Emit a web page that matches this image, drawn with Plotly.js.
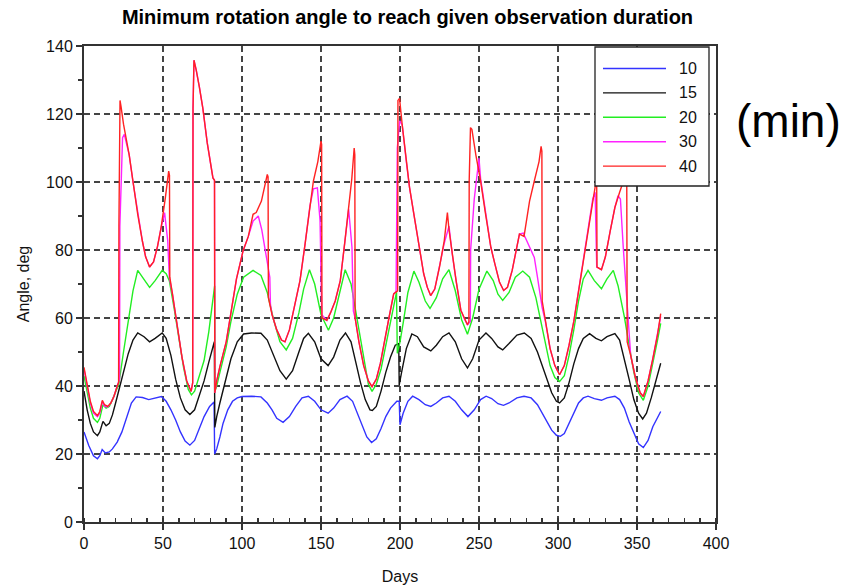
<!DOCTYPE html>
<html>
<head>
<meta charset="utf-8">
<script src="https://cdn.plot.ly/plotly-3.0.1.min.js"></script>
<style>html,body{margin:0;padding:0;background:#fff;}#chart{width:853px;height:585px;}</style>
</head>
<body>
<div id="chart"></div>
<script>
// Series names (observation duration, min) and colours
var seriesNames = ['10', '15', '20', '30', '40'];
var seriesColors = ['#3333ff', '#111111', '#22ee22', '#ff22ff', '#ff2222'];

// 10 min (blue)
var dayBlue = [0,3,6,8.5,10,11.5,13.5,16,18,21,24,27,30,33,37,41,45,49,52,55,58,61,64,67,70,73,76,79.5,82.3,82.7,84,86,88,91,94,97,100,106,112,116,119,122,126,130,134,138,142,146,150,154.5,158,162,166.5,170,173,176,179,182,185,188,191,194,198,199.5,200,202,205,208,212,216,219.5,223,227,231,235,239,243,247,251,254.5,258,262,265.5,269,274,278.5,283,287,290,293,296,299,301.5,304,307,310,313,316,319,323,327.5,331,336,339,342,345,348,351,354,357,360,363,365];
var angBlue = [26.5,22.5,19.5,18.6,19.5,21.3,20.3,20.6,21.5,23.5,26.5,31,35,36.8,36.6,36,36.4,36.9,35.5,33,30,26.5,23.8,22.6,24,27.5,31,34,35.3,20,21.5,25,29,33,35.5,36.5,36.9,37,36.8,35,33,30.5,29.3,31,34,36.5,37,35.5,33,32,33.5,36,37,35.5,32,28,25,23.4,24.5,27.5,31,33.5,35.5,35.5,28.6,32,35.5,37,36,34.5,34,35,36.5,37,35.5,33,31,33,36,37,36.3,34.8,34.3,35,36.5,37,36.5,34.5,32,29.5,27,25.5,25.2,26,29,32.5,35,36.5,37,36.3,35.8,36.5,37,36,33.5,29.5,26,23,21.9,24,28,31,32.5];

// 15 min (black)
var dayBlack = [0,2,4,6,8.5,10,12,14,16,18,20,22,25,28,31,34,38,41.5,45,49.5,52,55,58,61,64,67,70,73,76,79,82.5,82.8,84,86,90,93,97,101,106,112,116,120,124,128,132,136,139,142,146,150,154.5,158,162,165.5,169,172,175,178,181,182.5,185,188,191,194,197,199.2,199.5,201,204,207.5,211,215,219.5,223,227,231,235,239,242.7,246,250,254.4,258,262,265,269,274,278.7,283,287,290,293,296,299,301,304,307,310,313,316,320,324,327.5,331,336,339,342,345,348,351,353.6,356,359,362,365];
var angBlack = [38.5,33,29,26.5,25.4,26.5,29.6,28.3,29,31.5,35,38.5,44,49.5,53.5,55.6,54.5,53,54,55.6,54,49,42,36.5,33,31.6,33,37,41.5,47,53,27.8,31,35,42,48,53,55.3,55.6,55.5,53.5,49,44.5,42,44.5,50,54,55.5,53,48,46,48.5,53.5,55.6,53,47,41,36,33,32.8,34,38.5,44,48.5,52,52.5,40.3,44,51,55.3,54.5,51.5,50.3,52,54.5,55.6,53,48,45.3,48,53.5,55.6,54,51.5,50.6,52.5,55,55.6,54,50,46,41.5,38,35.5,35,36.5,41,46.5,51,54,55.4,54,53.3,54.5,55.4,53.5,48,42,36,32,30.3,32,36.5,41.5,46.7];

// 20 min (green)
var dayGreen = [0,2,4,6,8.5,10,12,14,16,18,20,22,25,28,31,34,38,41.5,45,49.5,52,54,57,60,63,66,68,70,73,76,79,82,82.7,82.9,84,86,90,93,97,101,107,112,116,120,124,128,132,136,139,142.7,146,150,154.7,158,162,165.3,169,172,175,178,180,182.3,185,188,191,194,197.8,198.3,200,202,205,208.8,212,216,219,223,227,231,235,239,242.7,246,250,255,259,262,265,269,273,277.7,282,286,289,292,295,298,301,304,307,310,313,316,319,323,327.5,331,335,338,342,345,348,351,354,357,360,363,365];
var angGreen = [43,38,33.5,30.5,29.3,30.5,34.5,33.5,34,36,38,40.5,50,58.5,68,74,71.5,69,71,74,73,71,63,54,45.5,39,37.4,38.5,43,47.5,56,68,69.5,38.5,40,44,51.5,59,67,72,74,72.5,67.5,59.5,53,50.6,54,61.5,68.5,74.2,70,61,56.4,60,68,74.2,70,62,53,45,40.5,38.4,40.5,45,52,59.5,67.6,49.6,53,58.5,67.5,73.8,70.5,65,62.8,66,71.5,74.2,68,59.5,55.2,60,68.5,73.8,71,67,65.2,67.5,72,73.8,72,66,59,52,46,42.5,41.3,43,49,56.5,65,71.5,74,71,68.6,71.5,74,69.5,60.3,52,44,38,35.8,40,46.5,53.5,58.4];

// 30 min (magenta)
var dayMagenta = [0,2,4,6,8.5,10,11.6,13,15,17,19,21,22.5,22.7,24.4,25.5,28.6,31,34,37,39,41.5,44,46.5,48.8,51,53,54,56,59,62,65,67.8,68.8,69,69.6,71,73,75.2,78,81.6,82.6,82.8,84,86,90,93,96.5,100.7,104,107,110.3,112.5,114.5,117.6,118,119,122,125,127.2,130,133,136.7,140,143,145.2,147.7,149.4,150.5,153.7,156,159,162.2,165,167.5,169.6,170.5,171.6,174,177,180,182.3,185,187.6,190,193,196,197.5,197.8,198.3,199.8,201.4,204,206,208.8,212,215,217.3,219.4,222,225,228,231,233,235.5,238.5,241,242.7,244.5,244.7,247,250,251,254,257.5,260,263,265.6,268,271,275.6,278,281,285,287,289.3,290,292,295,298,301,304,307,310,313,316,319,322,323.5,324,324.5,327.5,330,333,336,338,339.5,341.3,343,344.4,346,349,352,354,357,360,363,365];
var angMagenta = [45,39.5,35,32,31,32,35.5,34,33.8,35,37,40,42,87,113,114,108,100,90.5,82.5,78,75,76.5,81,86.6,91,82.7,72,67,58,48.5,41.5,38.4,41,121.7,135.8,133,128,121.7,111.5,101.2,100.5,38,41.5,45.7,53,61,71.5,79.8,84,88.5,90,86,80.8,72,64,61,56.5,53.5,53,56.5,63,71,82,93,98,98.3,88.6,61,59.3,61.5,65,71,82,92,80.8,62,60,53,46,41.5,39.8,42,46.7,53,60,67.1,67.8,83,110,118,116.8,106,98.5,90.5,81,73,69,66.6,68.5,75,82,87,79,71,62.3,59.5,58,59,80,95,107,101,91,80.8,76,70.5,68.1,69,74,84.7,85,82,77.8,72,65.2,63,59,51,46,43.3,46,52,59,68,77,86,95,97,80,75,74.2,78,85.5,92.5,96,95,80.8,70,61.3,49,42.5,38,36.9,41.5,48,55,60.5];

// 40 min (red)
var dayRed = [0,2,4,6,8.5,10,11.6,13,15,17,19,21,21.9,22.1,22.8,23.5,25,28.6,31,34,37,39,41.5,44,46.5,48.8,51.5,53.6,54.1,54.3,56,59,62,65,67.8,68.8,69,69.6,71,73,75.2,78,81.6,82.6,82.8,84,86,90,93,96.5,100.7,104,107,109,112.3,116,116.5,116.7,119,122,125,127.2,130,133,136.7,140,143,145.2,148,150,150.4,150.6,153.7,156,159,162.2,165,167.5,169.5,171,171.4,171.6,174,177,180,182.3,185,187.6,190,193,196,198.5,198.7,199.7,201.4,204,206,208.8,212,215,217.3,219.4,222,225,228,230,231,233,235.5,238.5,241,242.7,243.6,243.8,244.6,245.5,248,251,254,257.5,260,263,265.6,268,271,275.6,278.5,280,282,285,288,289.3,289.8,290,292,295,298,301,304,307,310,313,316,319,322,324,324.5,324.7,327.5,330,333,336,339,342,343.5,343.8,346,349,352,354,357,360,363,365];
var angRed = [45.5,40,35.5,32.5,31.3,32.5,35.8,34.5,34,35,37,40,41,87,124,122,117,108,100,90.5,82.5,78,75,76.5,81,86.6,95.4,103.2,102,72,67,58,48.5,41.5,38.4,41,121.7,135.8,133,128,121.7,111.5,101.2,100.5,38,41.5,45.7,53,61,71.5,79.8,84,90.5,91,94.4,102.2,101.5,66,61,56.5,53.5,53,56.5,63,71,82,93,100.3,106,112,111,60,59.3,61.5,65,71,82,93,101,110,108,60,53,46,41.5,39.8,42,46.7,53,60,67.1,68,124,124.6,116.8,106,98.5,90.5,81,73,69,66.6,68.5,75,82.7,91,86,79,71,62.3,59.5,58,59,100.3,116,115.5,108,100.3,91,80.8,76,70.5,68.1,69,74,84.7,84,88,94.4,100.3,106,110.5,109,65,59,51,46,43.3,46,52,59,68,77,86,95,100,99,75,74.2,78,85.5,92.5,97,101,103,53,49,42.5,38,36.9,41.5,48,55,61.3];

var xTickVals = [0,50,100,150,200,250,300,350,400];
var yTickVals = [0,20,40,60,80,100,120,140];

var FONT = '"Liberation Sans", Arial, sans-serif';

var xs = [dayBlue, dayBlack, dayGreen, dayMagenta, dayRed];
var ys = [angBlue, angBlack, angGreen, angMagenta, angRed];
var traces = xs.map(function (x, i) {
  return {
    x: x, y: ys[i], type: 'scatter', mode: 'lines', name: seriesNames[i],
    line: {color: seriesColors[i], width: 1.4}, showlegend: false
  };
});

// plot area in pixels
var PL = 84, PR = 716, PT = 46, PB = 522;
function px(p) { return (p - PL) / (PR - PL); }
function py(p) { return (PB - p) / (PB - PT); }

// Legend panel: frame, a sample line and a label per series
var shapes = [{
  type: 'rect', xref: 'paper', yref: 'paper', layer: 'above',
  x0: px(595), x1: px(709), y0: py(186), y1: py(47),
  fillcolor: '#ffffff', line: {color: '#222', width: 1.3}
}];
var annotations = [];
seriesNames.forEach(function (name, i) {
  var yy = 68.5 + 24.4 * i;
  shapes.push({
    type: 'line', xref: 'paper', yref: 'paper', layer: 'above',
    x0: px(603), x1: px(666), y0: py(yy), y1: py(yy),
    line: {color: seriesColors[i], width: 1.4}
  });
  annotations.push({
    text: name, xref: 'paper', yref: 'paper', x: px(677), y: py(yy),
    xanchor: 'left', yanchor: 'middle', showarrow: false,
    font: {family: FONT, size: 16, color: '#111'}
  });
});
annotations.push({
  text: '(min)', xref: 'paper', yref: 'paper',
  x: px(788), y: py(121), xanchor: 'center', yanchor: 'middle',
  showarrow: false, font: {family: FONT, size: 46, color: '#000'}
});

var gridDash = '6px,4px';
var GRIDC = '#444';
var layout = {
  width: 853, height: 585,
  margin: {l: PL, r: 853 - PR, t: PT, b: 585 - PB, pad: 0},
  paper_bgcolor: '#ffffff', plot_bgcolor: '#ffffff',
  showlegend: false,
  title: {
    text: 'Minimum rotation angle to reach given observation duration',
    font: {family: FONT, size: 20, color: '#000', weight: 'bold'},
    xref: 'paper', x: px(407.5), xanchor: 'center',
    yref: 'container', y: 1 - 17 / 585, yanchor: 'middle'
  },
  xaxis: {
    range: [0, 400], tickvals: xTickVals, ticktext: xTickVals.map(String),
    showgrid: true, gridcolor: GRIDC, gridwidth: 2, griddash: gridDash,
    showline: true, linecolor: '#333', linewidth: 2, mirror: true,
    ticks: 'outside', ticklen: 6, tickcolor: '#333', tickwidth: 1.5,
    minor: {dtick: 10, tick0: 0, ticks: 'inside', ticklen: 4, tickcolor: '#333', showgrid: false},
    zeroline: false,
    tickfont: {family: FONT, size: 16, color: '#111'},
    title: {text: 'Days', font: {family: FONT, size: 16, color: '#111'}, standoff: 20},
    automargin: false
  },
  yaxis: {
    range: [0, 140], tickvals: yTickVals, ticktext: yTickVals.map(String),
    showgrid: true, gridcolor: GRIDC, gridwidth: 2, griddash: gridDash,
    showline: true, linecolor: '#333', linewidth: 2, mirror: true,
    ticks: 'outside', ticklen: 6, tickcolor: '#333', tickwidth: 1.5,
    minor: {dtick: 10, tick0: 0, ticks: 'outside', ticklen: 4, tickcolor: '#333', showgrid: false},
    zeroline: false,
    tickfont: {family: FONT, size: 16, color: '#111'},
    title: {text: 'Angle, deg', font: {family: FONT, size: 16, color: '#111'}, standoff: 12},
    automargin: false
  },
  xaxis2: {
    overlaying: 'x', side: 'top', anchor: 'y', range: [0, 400], tickvals: xTickVals,
    showticklabels: false, showgrid: false, zeroline: false, showline: false,
    ticks: 'inside', ticklen: 6, tickcolor: '#333', tickwidth: 1.5
  },
  yaxis2: {
    overlaying: 'y', side: 'right', anchor: 'x', range: [0, 140], tickvals: yTickVals,
    showticklabels: false, showgrid: false, zeroline: false, showline: false,
    ticks: 'inside', ticklen: 6, tickcolor: '#333', tickwidth: 1.5
  },
  shapes: shapes,
  annotations: annotations
};

Plotly.newPlot('chart', traces, layout, {displayModeBar: false, staticPlot: true});
</script>
</body>
</html>
